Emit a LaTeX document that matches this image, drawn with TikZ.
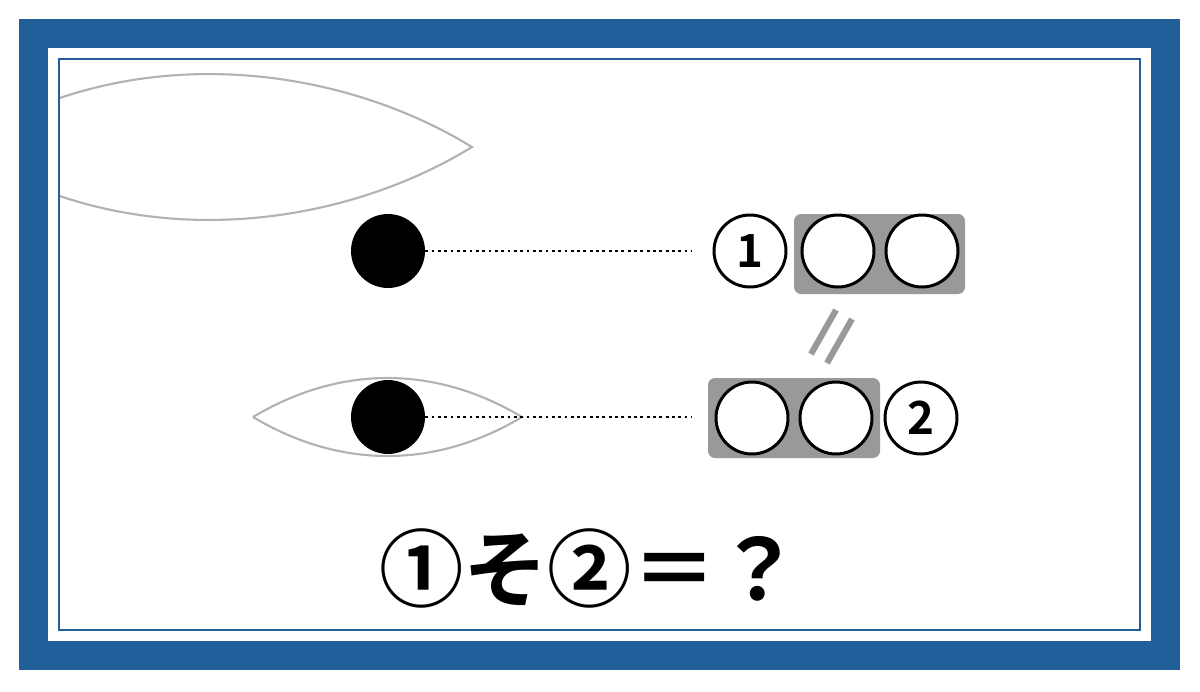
\documentclass[tikz,border=0pt]{standalone}
\usepackage{fontspec}
\newfontfamily\cjk{Noto Sans CJK JP}[BoldFont={* Bold}]
\usepackage{tikz}
\usetikzlibrary{positioning}
\definecolor{framecolor}{RGB}{34,94,154}
\definecolor{boxcolor}{RGB}{153,153,153}
\begin{document}
\begin{tikzpicture}[x=0.02cm, y=-0.02cm,
  ball/.style={circle, draw=black, line width=1.7pt, fill=white, minimum size=1.44cm, inner sep=0pt, font=\cjk\bfseries\fontsize{26}{26}\selectfont},
  pupil/.style={circle, fill=black, minimum size=1.48cm, inner sep=0pt},
  lens/.style={draw=gray!60, line width=1.2pt},
  link/.style={dotted, line width=1.6pt}]
\def\boxcolor{boxcolor}

\useasboundingbox (0,0) rectangle (1200,691);
% FRAME
\fill[framecolor] (19,19) rectangle (1180,670);
\fill[white] (48,48) rectangle (1151,641);
\draw[framecolor, line width=1.3pt] (59,59) rectangle (1140,630);

% EYES
\begin{scope}
\clip (60,60) rectangle (1139,629);
\draw[lens] (-40,147) .. controls (120,40) and (330,60) .. (472,147)
  .. controls (330,234) and (120,254) .. (-40,147);
\end{scope}
\draw[lens] (253,417) .. controls (340,365) and (435,365) .. (522,417)
  .. controls (435,469) and (340,469) .. (253,417);

\node[pupil] (top) at (388,251) {};
\node[pupil] (low) at (388,417) {};

% FIRST ROW
\fill[\boxcolor, rounded corners=4pt] (794,214) rectangle (965,294);
\node[ball] (one) at (750,251) {1};
\node[ball] (a1) at (838,251) {};
\node[ball] (a2) at (922,251) {};
\coordinate (endone) at (692,251);
\draw[link] (top.east) -- (endone);

% SECOND ROW
\fill[\boxcolor, rounded corners=4pt] (708,378) rectangle (880,458);
\node[ball] (b1) at (752,418) {};
\node[ball] (b2) at (836,418) {};
\node[ball] (two) at (921,418) {2};
\coordinate (endtwo) at (692,417);
\draw[link] (low.east) -- (endtwo);

% EQUAL SIGN
\draw[\boxcolor, line width=3.5pt] (836,310) -- (811,354);
\draw[\boxcolor, line width=3.5pt] (852,319) -- (827,363);

% QUESTION
\node[font=\cjk\bfseries\fontsize{48}{48}\selectfont] (question) at (590,568) {①そ②＝？};
\end{tikzpicture}
\end{document}
